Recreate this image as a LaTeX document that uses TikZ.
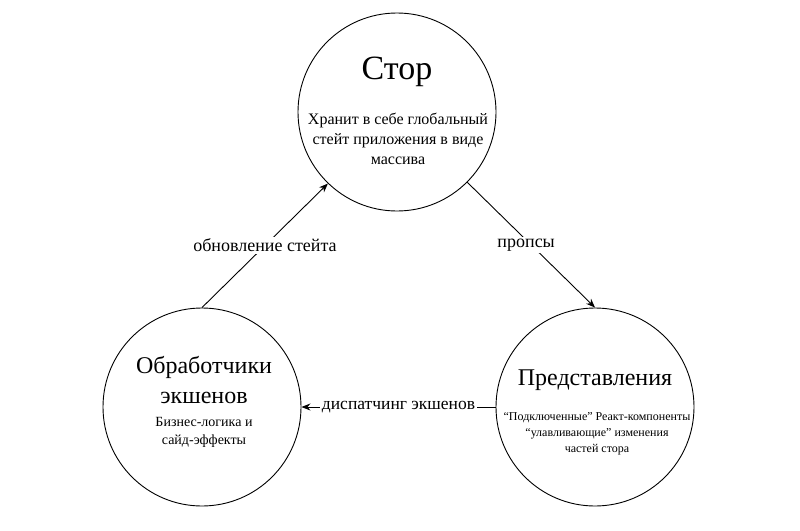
\documentclass[tikz,border=0pt]{standalone}
\usepackage{fontspec}
\setmainfont{Liberation Serif}
\usetikzlibrary{arrows,arrows.meta,positioning}

\tikzset{
    blob/.style={draw, circle, line width=0.9pt, minimum size=198pt, inner sep=0pt},
    title/.style={font=\fontsize{24}{30}\selectfont, align=center},
    note/.style={font=\fontsize{14}{18}\selectfont, align=center},
    flow/.style={-{Stealth[length=9pt,width=7pt]}, line width=0.9pt},
    lbl/.style={fill=white, inner sep=2pt, font=\fontsize{18}{20}\selectfont}
}

\begin{document}
\begin{tikzpicture}[x=1pt,y=-1pt]
    \useasboundingbox (0,0) rectangle (800,530);
    % circles
    \node[blob] (store) at (397,112) {};
    \node[blob] (views) at (595,407) {};
    \node[blob] (handlers) at (202,407) {};
    % texts inside
    \node[title, font=\fontsize{34}{40}\selectfont] (storeT) at (397,72) {Стор};
    \node[note, font=\fontsize{16}{20}\selectfont] (storeN) at (398,139)
        {Хранит в себе глобальный\\стейт приложения в виде\\массива};
    \node[title] (viewsT) at (595,380) {Представления};
    \node[note, font=\fontsize{12}{16}\selectfont] (viewsN) at (597,434)
        {“Подключенные” Реакт-компоненты\\“улавливающие” изменения\\частей стора};
    \node[title] (handlersT) at (204,380) {Обработчики\\экшенов};
    \node[note] (handlersN) at (204,432) {Бизнес-логика и\\сайд-эффекты};
    % connectors
    \draw[flow] (handlers.north) -- node[lbl] (upd) {обновление стейта} (store.226);
    \draw[flow] (store.-45) -- node[lbl, xshift=-5pt] (props) {пропсы} (views.north);
    \draw[flow] (views.west) -- node[lbl, font=\fontsize{17.5}{20}\selectfont] (disp) {диспатчинг экшенов} (handlers.east);
\end{tikzpicture}
\end{document}
